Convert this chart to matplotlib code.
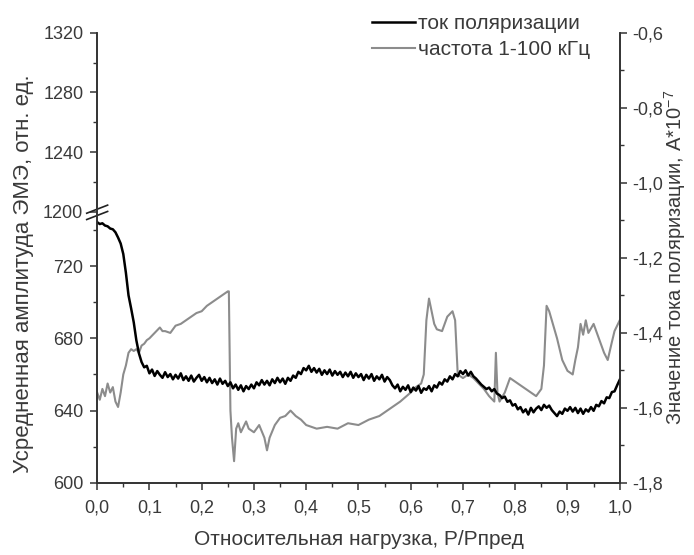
import numpy as np
import matplotlib.pyplot as plt

plt.rcParams['font.family'] = ['Liberation Sans', 'DejaVu Sans']
plt.rcParams['mathtext.fontset'] = 'custom'
plt.rcParams['mathtext.rm'] = 'Liberation Sans'
plt.rcParams['mathtext.it'] = 'Liberation Sans'

# polarization current (right axis, A*1e-7), step 0.005
cur_x = np.linspace(0, 1, 201)
cur_y = [-1.105, -1.110, -1.108, -1.114, -1.116, -1.122, -1.124, -1.132, -1.146, -1.162,
         -1.190, -1.240, -1.300, -1.335, -1.372, -1.420, -1.455, -1.478, -1.492, -1.488,
         -1.508, -1.498, -1.515, -1.502, -1.512, -1.520, -1.505, -1.518, -1.510, -1.524,
         -1.512, -1.522, -1.508, -1.526, -1.516, -1.528, -1.514, -1.530, -1.520, -1.512,
         -1.528, -1.518, -1.532, -1.520, -1.534, -1.524, -1.538, -1.522, -1.536, -1.528,
         -1.542, -1.532, -1.548, -1.538, -1.552, -1.540, -1.556, -1.542, -1.550, -1.538,
         -1.548, -1.532, -1.540, -1.526, -1.538, -1.528, -1.540, -1.524, -1.534, -1.520,
         -1.532, -1.522, -1.536, -1.520, -1.528, -1.514, -1.520, -1.504, -1.510, -1.494,
         -1.500, -1.488, -1.504, -1.494, -1.506, -1.496, -1.512, -1.500, -1.510, -1.498,
         -1.514, -1.502, -1.512, -1.504, -1.518, -1.506, -1.516, -1.504, -1.520, -1.508,
         -1.518, -1.510, -1.526, -1.512, -1.522, -1.510, -1.528, -1.516, -1.524, -1.512,
         -1.530, -1.518, -1.526, -1.540, -1.548, -1.538, -1.556, -1.544, -1.552, -1.540,
         -1.558, -1.546, -1.554, -1.542, -1.560, -1.548, -1.552, -1.542, -1.556, -1.540,
         -1.546, -1.532, -1.538, -1.524, -1.530, -1.516, -1.524, -1.510, -1.516, -1.502,
         -1.510, -1.500, -1.514, -1.504, -1.516, -1.522, -1.530, -1.538, -1.544, -1.550,
         -1.546, -1.556, -1.550, -1.562, -1.566, -1.574, -1.570, -1.584, -1.580, -1.594,
         -1.590, -1.604, -1.598, -1.612, -1.604, -1.618, -1.600, -1.612, -1.602, -1.596,
         -1.606, -1.592, -1.600, -1.594, -1.606, -1.614, -1.622, -1.610, -1.616, -1.602,
         -1.608, -1.598, -1.610, -1.600, -1.614, -1.602, -1.616, -1.604, -1.610, -1.598,
         -1.608, -1.592, -1.596, -1.582, -1.588, -1.572, -1.574, -1.558, -1.556, -1.540,
         -1.525]

# EME amplitude 1-100 kHz (left axis)
eme_x = [0.000, 0.005, 0.010, 0.015, 0.020, 0.025, 0.030, 0.035, 0.040, 0.045,
         0.050, 0.055, 0.060, 0.065, 0.070, 0.075, 0.080, 0.085, 0.090, 0.095,
         0.100, 0.110, 0.120, 0.125, 0.130, 0.140, 0.150, 0.160, 0.170, 0.180,
         0.190, 0.200, 0.210, 0.220, 0.230, 0.240, 0.250, 0.252, 0.255, 0.258,
         0.262, 0.266, 0.270, 0.275, 0.280, 0.285, 0.290, 0.300, 0.310, 0.320,
         0.325, 0.330, 0.340, 0.350, 0.360, 0.370, 0.380, 0.390, 0.400, 0.420,
         0.440, 0.460, 0.480, 0.500, 0.520, 0.540, 0.560, 0.580, 0.600, 0.610,
         0.620, 0.625, 0.630, 0.635, 0.640, 0.645, 0.650, 0.660, 0.670, 0.680,
         0.685, 0.690, 0.700, 0.710, 0.720, 0.730, 0.740, 0.750, 0.760, 0.763,
         0.766, 0.770, 0.780, 0.790, 0.800, 0.810, 0.820, 0.830, 0.840, 0.850,
         0.855, 0.860, 0.865, 0.870, 0.880, 0.890, 0.900, 0.910, 0.915, 0.920,
         0.925, 0.930, 0.935, 0.940, 0.950, 0.960, 0.970, 0.977, 0.985, 0.990,
         1.000]
eme_y = [650, 646, 652, 648, 655, 650, 653, 645, 642, 650,
         660, 665, 672, 674, 673, 674, 672, 676, 677, 679,
         680, 683, 686, 684, 684, 683, 687, 688, 690, 692,
         694, 695, 698, 700, 702, 704, 706, 706, 640, 625,
         612, 630, 633, 628, 631, 634, 630, 628, 632, 625,
         618, 625, 632, 636, 637, 640, 637, 635, 632, 630,
         631, 630, 633, 632, 635, 637, 641, 645, 650, 653,
         655, 660, 690, 702, 695, 688, 685, 684, 692, 695,
         690, 660, 658, 660, 658, 655, 652, 648, 645, 672,
         650, 645, 650, 658, 656, 654, 652, 650, 648, 652,
         665, 698, 695, 690, 680, 668, 662, 660, 668, 675,
         688, 682, 690, 683, 688, 680, 672, 668, 678, 684,
         690]

x_ticks = [0.0, 0.1, 0.2, 0.3, 0.4, 0.5, 0.6, 0.7, 0.8, 0.9, 1.0]
left_ticks = [600, 640, 680, 720, 1200, 1240, 1280, 1320]
left_minor = [620, 660, 700, 740, 1220, 1260, 1300]
right_ticks = [-1.8, -1.6, -1.4, -1.2, -1.0, -0.8, -0.6]

# broken left axis: 600-750 takes the lower part, 1200-1320 the upper part
brk_vals = [600, 750, 1200, 1320]
brk_pos = [0.0, 0.602, 0.6021, 1.0]


def fwd(v):
    return np.interp(v, brk_vals, brk_pos)


def inv(p):
    return np.interp(p, brk_pos, brk_vals)


def comma(v, d):
    return f"{v:.{d}f}".replace('.', ',')


txt = '#3a3a3a'
fig = plt.figure(figsize=(6.94, 5.55), dpi=100)
ax = fig.add_axes([0.140, 0.130, 0.753, 0.811])
ax2 = ax.twinx()

l2, = ax.plot(eme_x, eme_y, color='#8c8c8c', lw=1.5)
l1, = ax2.plot(cur_x, cur_y, color='black', lw=1.8)

ax.set_yscale('function', functions=(fwd, inv))
ax.set_xlim(0, 1)
ax.set_ylim(600, 1320)
ax2.set_ylim(-1.8, -0.6)

ax.set_xticks(x_ticks)
ax.set_xticklabels([comma(v, 1) for v in x_ticks])
ax.set_xticks(np.round(np.arange(0.05, 1, 0.1), 2), minor=True)
ax.set_yticks(left_ticks)
ax.set_yticklabels([str(v) for v in left_ticks])
ax.set_yticks(left_minor, minor=True)
ax2.set_yticks(right_ticks)
ax2.set_yticklabels([comma(v, 1) for v in right_ticks])
ax2.set_yticks(np.round(np.arange(-1.7, -0.6, 0.2), 2), minor=True)

for a in (ax, ax2):
    a.spines['top'].set_visible(False)
    for s in a.spines.values():
        s.set_color('#333333')
        s.set_linewidth(1.2)
    a.tick_params(which='major', direction='out', length=5, width=1.1,
                  color='#333333', labelsize=13, labelcolor=txt)
    a.tick_params(which='minor', direction='out', length=3, width=1.0,
                  color='#333333')
ax.tick_params(axis='x', which='major', pad=7)
ax.tick_params(axis='y', which='major', pad=5)
ax2.tick_params(axis='y', which='major', pad=4)

# break marks on the left spine
yb = 0.602
for dy in (-0.008, 0.006):
    ax.plot([-0.02, 0.02], [yb + dy - 0.009, yb + dy + 0.009],
            transform=ax.transAxes, color='#222222', lw=1.2, clip_on=False)

ax.set_xlabel('Относительная нагрузка, Р/Рпред', fontsize=15, color=txt)
ax.xaxis.set_label_coords(0.5, -0.105)
ax.set_ylabel('Усредненная амплитуда ЭМЭ, отн. ед.', fontsize=16, color=txt)
ax.yaxis.set_label_coords(-0.12, 0.465)
ax2.set_ylabel('Значение тока поляризации, А*10$^{-7}$', fontsize=14.5, color=txt)
ax2.yaxis.set_label_coords(1.082, 0.5)

fig.legend([l1, l2], ['ток поляризации', 'частота 1-100 кГц'], loc='upper left',
           bbox_to_anchor=(0.536, 0.975), frameon=False, fontsize=15,
           borderpad=0, borderaxespad=0,
           handlelength=2.07, handletextpad=0.15, labelspacing=0.35,
           labelcolor=txt)

fig.savefig('out.png', dpi=100)
